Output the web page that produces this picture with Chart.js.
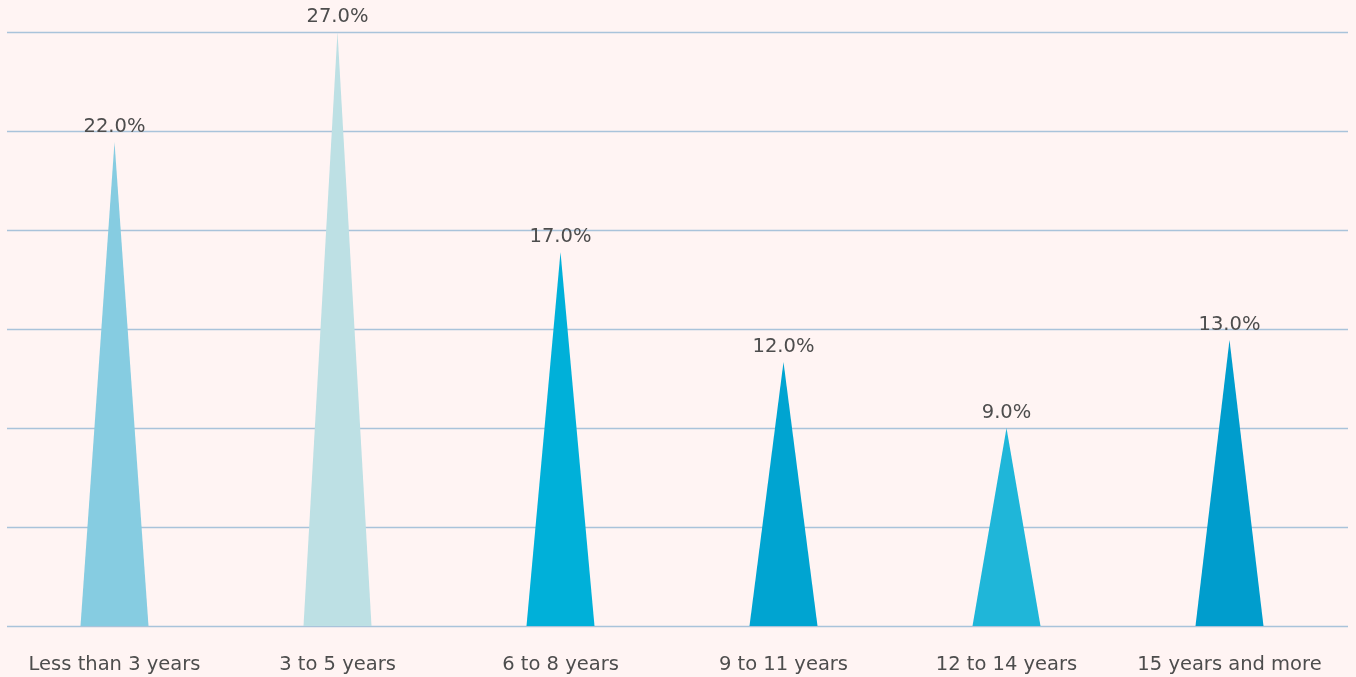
<!DOCTYPE html>
<html>
<head>
<meta charset="utf-8">
<script src="https://cdn.jsdelivr.net/npm/chart.js@4"></script>
<style>
  html, body { margin: 0; padding: 0; background: #fff4f3; }
  #wrap { width: 1356px; height: 677px; position: relative; }
</style>
</head>
<body>
<div id="wrap"><canvas id="chart"></canvas></div>
<script>
// Share of respondents by years of experience
const categories = ['Less than 3 years', '3 to 5 years', '6 to 8 years', '9 to 11 years', '12 to 14 years', '15 years and more'];
const shares     = [22, 27, 17, 12, 9, 13];
const spikeColors = ['#86cce1', '#bde0e4', '#00b0d9', '#00a4d1', '#1fb6d9', '#009dcd'];

const TEXT_COLOR = '#4d4d4d';
const GRID_COLOR = '#a9c3da';
const FONT = '"DejaVu Sans", sans-serif';
const FONT_SIZE = 19.5;

// Draws each bar as an isosceles triangle, plus a value label over the tip
const spikePlugin = {
  id: 'spikes',
  beforeDraw(chart) {
    const { ctx, chartArea, scales: { y } } = chart;
    ctx.save();
    ctx.strokeStyle = GRID_COLOR;
    ctx.lineWidth = 1.3;
    y.ticks.forEach(t => {
      const py = Math.round(y.getPixelForValue(t.value)) + 0.5;
      ctx.beginPath();
      ctx.moveTo(chartArea.left + 4, py);
      ctx.lineTo(chartArea.right + 7, py);
      ctx.stroke();
    });
    ctx.restore();
  },
  beforeDatasetDraw(chart, args) {
    const { ctx } = chart;
    const meta = args.meta;
    ctx.save();
    meta.data.forEach((bar, i) => {
      const half = bar.width / 2;
      ctx.fillStyle = bar.options.backgroundColor;
      ctx.beginPath();
      ctx.moveTo(bar.x - half, bar.base);
      ctx.lineTo(bar.x, bar.y);
      ctx.lineTo(bar.x + half, bar.base);
      ctx.closePath();
      ctx.fill();

      ctx.fillStyle = TEXT_COLOR;
      ctx.font = FONT_SIZE + 'px ' + FONT;
      ctx.textAlign = 'center';
      ctx.textBaseline = 'bottom';
      ctx.fillText(shares[i].toFixed(1) + '%', bar.x, bar.y - 5);
    });
    ctx.restore();
    return false;
  }
};

new Chart(document.getElementById('chart'), {
  type: 'bar',
  data: {
    labels: categories,
    datasets: [{
      data: shares,
      backgroundColor: spikeColors,
      categoryPercentage: 1,
      barPercentage: 0.305
    }]
  },
  options: {
    responsive: true,
    maintainAspectRatio: false,
    animation: false,
    layout: { padding: { top: 32, left: 3, right: 15, bottom: 0 } },
    plugins: {
      legend: { display: false },
      tooltip: { enabled: false }
    },
    scales: {
      x: {
        grid: { display: false, drawTicks: false },
        border: { display: false },
        ticks: { color: TEXT_COLOR, font: { family: FONT, size: FONT_SIZE }, padding: 27, maxRotation: 0, autoSkip: false },
        afterFit(scale) { scale.height = 51; }
      },
      y: {
        min: 0,
        max: 27,
        grid: { display: false },
        border: { display: false },
        ticks: { display: false, stepSize: 4.5 },
        afterFit(scale) { scale.width = 0; }
      }
    }
  },
  plugins: [spikePlugin]
});
</script>
</body>
</html>
